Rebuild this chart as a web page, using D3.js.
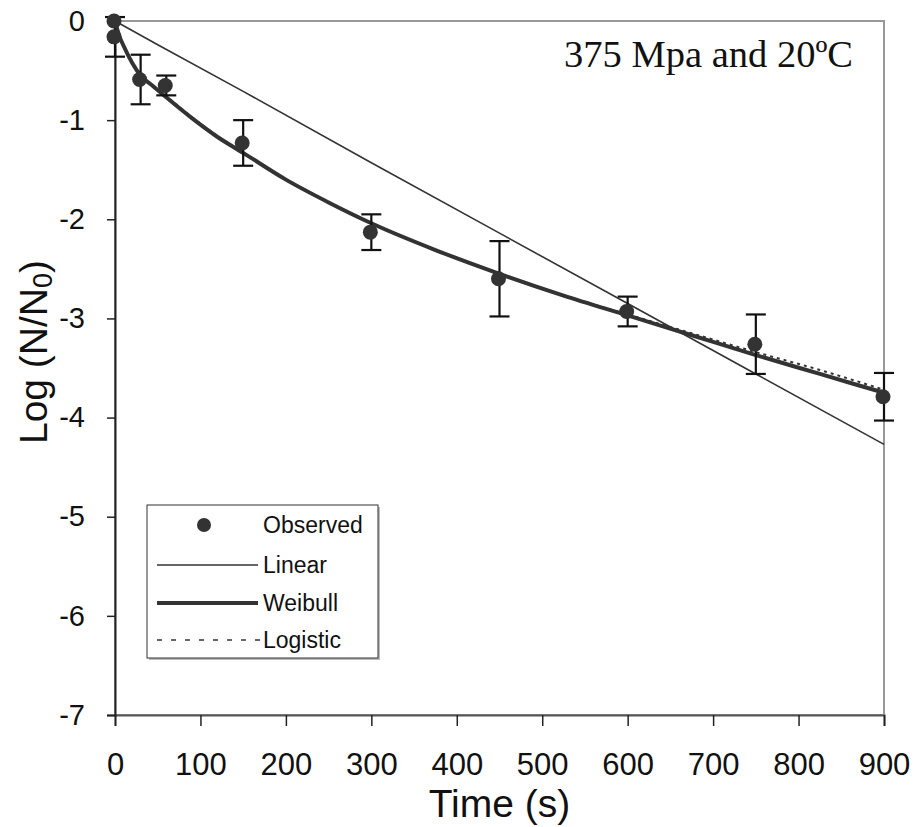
<!DOCTYPE html>
<html><head><meta charset="utf-8">
<script src="https://cdn.jsdelivr.net/npm/d3@7"></script>
<style>body{margin:0;background:#fff}svg{display:block}</style>
</head><body>
<svg id="c" width="921" height="827"></svg>
<script>
// ---- data ----
const obsTime  = [0, 0, 30, 60, 150, 300, 450, 600, 750, 900];
const obsValue = [0, -0.16, -0.59, -0.65, -1.23, -2.13, -2.6, -2.93, -3.26, -3.79];
const obsError = [0, 0.2, 0.25, 0.1, 0.23, 0.18, 0.38, 0.15, 0.3, 0.24];

const linearTime = [0, 50, 150, 300, 450, 600, 750, 900];
const linearValue = [0, -0.24, -0.71, -1.43, -2.14, -2.85, -3.56, -4.27];

const modelTime = [0, 5, 10, 20, 30, 45, 60, 90, 120, 150, 200, 250, 300, 375, 450, 525, 600, 675, 750, 825, 900];
const weibullValue = [0, -0.15, -0.25, -0.42, -0.55, -0.66, -0.77, -0.98, -1.17, -1.33, -1.6, -1.83, -2.04, -2.31, -2.55, -2.77, -2.97, -3.17, -3.37, -3.56, -3.75];
const logisticValue = [0, -0.14, -0.24, -0.41, -0.54, -0.66, -0.76, -0.97, -1.16, -1.33, -1.6, -1.83, -2.04, -2.31, -2.55, -2.77, -2.96, -3.15, -3.34, -3.52, -3.72];

const xTicks = [0, 100, 200, 300, 400, 500, 600, 700, 800, 900];
const yTicks = [0, -1, -2, -3, -4, -5, -6, -7];

const titleText = "375 Mpa and 20ºC";
const legendLabels = ["Observed", "Linear", "Weibull", "Logistic"];

// ---- drawing ----
const svg = d3.select("#c");
const font = "'Liberation Sans', Arial, sans-serif";
const x = d3.scaleLinear().domain([0, 900]).range([115, 884]);
const y = d3.scaleLinear().domain([-7, 0]).range([715, 21]);
const ink = "#333";

// plot border (top/right gray)
svg.append("rect").attr("x", x(0)).attr("y", y(0)).attr("width", x(900) - x(0)).attr("height", y(-7) - y(0))
  .attr("fill", "none").attr("stroke", "#999").attr("stroke-width", 2);

// axes
const xAxis = d3.axisBottom(x).tickValues(xTicks).tickSize(11).tickPadding(27).tickFormat(d => String(d));
const gx = svg.append("g").attr("transform", `translate(0,${y(-7)})`).call(xAxis);
gx.select(".domain").attr("stroke", "#555").attr("stroke-width", 2);
gx.selectAll(".tick line").attr("stroke", "#222").attr("stroke-width", 1.5);
gx.selectAll(".tick text").attr("font-family", font).attr("font-size", 31).attr("fill", "#111");

const yAxis = d3.axisLeft(y).tickValues(yTicks).tickSize(8).tickPadding(22).tickFormat(d => String(d));
const gy = svg.append("g").attr("transform", `translate(${x(0)},0)`).call(yAxis);
gy.select(".domain").attr("stroke", "#222").attr("stroke-width", 2);
gy.selectAll(".tick line").attr("stroke", "#222").attr("stroke-width", 1.5);
gy.selectAll(".tick text").attr("font-family", font).attr("font-size", 29).attr("fill", "#111");

// axis titles
svg.append("text").attr("x", (x(0) + x(900)) / 2).attr("y", 817).attr("text-anchor", "middle")
  .attr("font-family", font).attr("font-size", 39).attr("fill", "#111").text("Time (s)");
const yl = svg.append("text").attr("transform", "translate(47,352) rotate(-90)").attr("text-anchor", "middle")
  .attr("font-family", font).attr("font-size", 39).attr("fill", "#111");
yl.append("tspan").text("Log (N/N");
yl.append("tspan").attr("font-size", 27).attr("dy", 5).text("0");
yl.append("tspan").attr("dy", -5).text(")");

// title
svg.append("text").attr("x", 853).attr("y", 67).attr("text-anchor", "end")
  .attr("font-family", "'Liberation Serif', 'Times New Roman', serif").attr("font-size", 38.5).attr("fill", "#111").text(titleText);

// lines
const line = d3.line().x(d => x(d[0])).y(d => y(d[1]));
const curve = d3.line().curve(d3.curveMonotoneX).x(d => x(d[0])).y(d => y(d[1]));
svg.append("path").datum(linearTime.map((t, i) => [t, linearValue[i]])).attr("d", line)
  .attr("fill", "none").attr("stroke", ink).attr("stroke-width", 1.6);
svg.append("path").datum(modelTime.map((t, i) => [t, weibullValue[i]])).attr("d", curve)
  .attr("fill", "none").attr("stroke", ink).attr("stroke-width", 4);
svg.append("path").datum(modelTime.map((t, i) => [t, logisticValue[i]])).attr("d", curve)
  .attr("fill", "none").attr("stroke", ink).attr("stroke-width", 2).attr("stroke-dasharray", "3,4");

// error bars
const obs = obsTime.map((t, i) => ({t, v: obsValue[i], e: obsError[i]}));
const eb = svg.append("g").attr("stroke", "#111").attr("stroke-width", 2.2);
obs.filter(d => d.e > 0).forEach(d => {
  eb.append("line").attr("x1", x(d.t)).attr("x2", x(d.t)).attr("y1", y(d.v + d.e)).attr("y2", y(d.v - d.e));
  [d.v + d.e, d.v - d.e].forEach(c => eb.append("line").attr("x1", x(d.t) - 10).attr("x2", x(d.t) + 10).attr("y1", y(c)).attr("y2", y(c)));
});
// points
svg.append("g").selectAll("circle").data(obs).join("circle")
  .attr("cx", d => x(d.t) - 1).attr("cy", d => y(d.v)).attr("r", 7.5).attr("fill", ink);

// legend
const lg = svg.append("g");
lg.append("rect").attr("x", 149).attr("y", 507).attr("width", 231).attr("height", 153).attr("fill", "#bbb");
lg.append("rect").attr("x", 147).attr("y", 505).attr("width", 231).attr("height", 153).attr("fill", "#fff").attr("stroke", "#333").attr("stroke-width", 1);
const ly = [525, 565, 603, 640];
lg.append("circle").attr("cx", 204).attr("cy", ly[0]).attr("r", 7).attr("fill", ink);
lg.append("line").attr("x1", 157).attr("x2", 258).attr("y1", ly[1]).attr("y2", ly[1]).attr("stroke", ink).attr("stroke-width", 1.6);
lg.append("line").attr("x1", 157).attr("x2", 258).attr("y1", ly[2]).attr("y2", ly[2]).attr("stroke", ink).attr("stroke-width", 4);
lg.append("line").attr("x1", 157).attr("x2", 260).attr("y1", ly[3]).attr("y2", ly[3]).attr("stroke", ink).attr("stroke-width", 1.5).attr("stroke-dasharray", "5,9");
legendLabels.forEach((s, i) => lg.append("text").attr("x", 263).attr("y", ly[i] + 8).attr("font-family", font)
  .attr("font-size", 23).attr("fill", "#111").text(s));
</script>
</body></html>
